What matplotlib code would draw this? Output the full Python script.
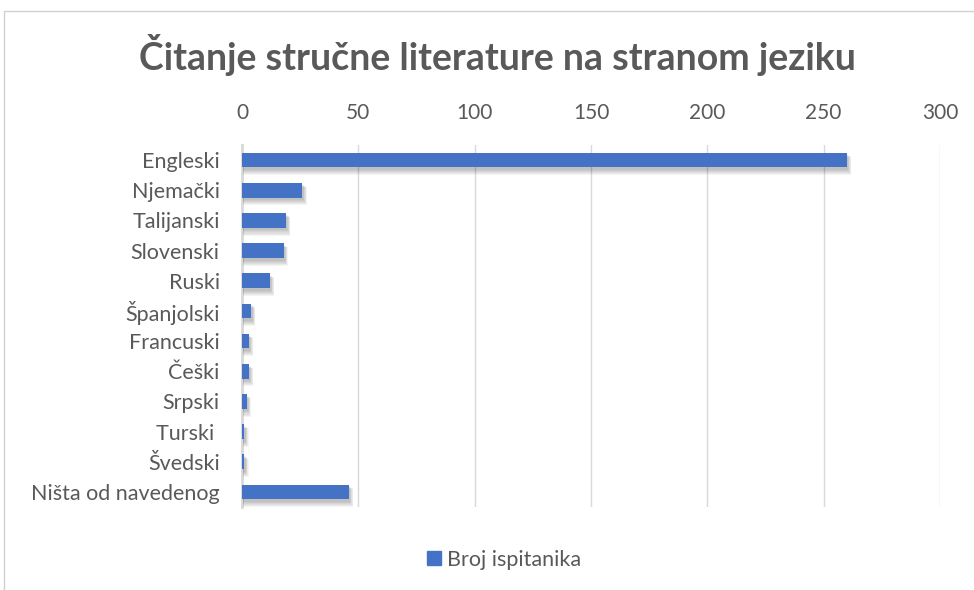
import matplotlib.pyplot as plt
from matplotlib.patches import Rectangle
from matplotlib.lines import Line2D

plt.rcParams['font.family'] = ['Lato', 'DejaVu Sans']

languages = ['Engleski', 'Njemački', 'Talijanski', 'Slovenski', 'Ruski', 'Španjolski',
             'Francuski', 'Češki', 'Srpski', 'Turski ', 'Švedski', 'Ništa od navedenog']
counts = [260, 26, 19, 18, 12, 4, 3, 3, 2, 1, 1, 46]
x_ticks = [0, 50, 100, 150, 200, 250, 300]

bar_color = '#4472C4'
text_color = '#595959'
grid_color = '#D9D9D9'

fig = plt.figure(figsize=(9.74, 5.9), dpi=100)

# outer chart frame (cut off at right and bottom)
fig.add_artist(Rectangle((4 / 974, -0.1), 1.2, 1.1 - 11 / 590, transform=fig.transFigure,
                         fill=False, edgecolor='#D0D0D0', linewidth=1))

ax = fig.add_axes([242 / 974, 1 - 507 / 590, 698 / 974, 362 / 590])

y_pos = list(range(len(languages)))
bar_height = 0.49

# soft blurred shadow behind bars
for step in range(1, 7):
    ax.barh([y + 0.05 + 0.025 * step for y in y_pos], [c + 0.25 * step for c in counts],
            height=bar_height + 0.02 * step, left=0.3, color='#000000',
            alpha=0.045, linewidth=0, zorder=2)
ax.barh(y_pos, counts, height=bar_height, color=bar_color, linewidth=0, zorder=3)

ax.set_xlim(0, 300)
ax.set_ylim(len(languages) - 0.5, -0.5)
ax.set_xticks(x_ticks)
ax.set_yticks(y_pos)
ax.set_yticklabels(languages)
ax.xaxis.tick_top()
ax.tick_params(axis='x', length=0, pad=16, labelsize=15, labelcolor=text_color)
ax.tick_params(axis='y', length=0, pad=16, labelsize=15.5, labelcolor=text_color)

ax.grid(axis='x', color=grid_color, linewidth=1, zorder=0)
ax.set_axisbelow(True)
for side in ['top', 'right', 'bottom']:
    ax.spines[side].set_visible(False)
ax.spines['left'].set_color(grid_color)
ax.spines['left'].set_linewidth(2)
ax.spines['left'].set_zorder(1)

fig.text(497 / 974, 1 - 55 / 590, 'Čitanje stručne literature na stranom jeziku',
         ha='center', va='center', fontsize=27, fontweight='bold', color=text_color)

handle = Line2D([], [], marker='s', linestyle='none', markersize=10,
                markerfacecolor=bar_color, markeredgecolor=bar_color)
fig.legend([handle], ['Broj ispitanika'], loc='center', bbox_to_anchor=(502 / 974, 1 - 560 / 590),
           frameon=False, fontsize=15.5, labelcolor=text_color, handletextpad=0.1,
           handlelength=1.0)

fig.savefig('out.png', dpi=100)
